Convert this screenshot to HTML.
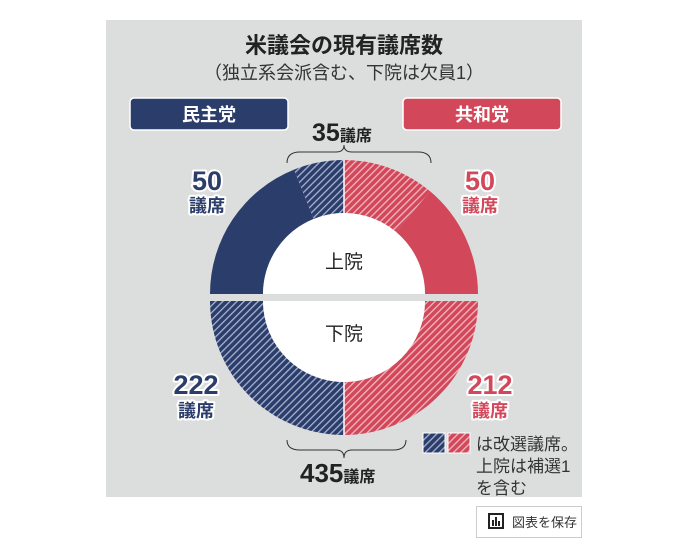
<!DOCTYPE html>
<html><head><meta charset="utf-8"><style>
body{margin:0;background:#fff;width:675px;height:550px;overflow:hidden;font-family:"Liberation Sans","Noto Sans CJK JP",sans-serif}
</style></head><body>
<svg width="675" height="550" viewBox="0 0 675 550" xmlns="http://www.w3.org/2000/svg" font-family="Liberation Sans, Noto Sans CJK JP, sans-serif">
<defs>
<pattern id="hb" width="5" height="5" patternUnits="userSpaceOnUse" patternTransform="rotate(45)">
<rect width="5" height="5" fill="#2b3d6b"/><rect width="1.3" height="5" fill="#a9b3d0"/></pattern>
<pattern id="hr" width="5" height="5" patternUnits="userSpaceOnUse" patternTransform="rotate(45)">
<rect width="5" height="5" fill="#d2485a"/><rect width="1.3" height="5" fill="#f2b9c0"/></pattern>
</defs>
<rect x="106" y="20" width="476" height="477" fill="#dcdddd"/>
<text x="344" y="53" font-size="22" font-weight="bold" text-anchor="middle" fill="#222">米議会の現有議席数</text>
<text x="344" y="79" font-size="18" text-anchor="middle" fill="#333">（独立系会派含む、下院は欠員1）</text>
<rect x="130" y="98" width="158" height="32" rx="4" fill="#2b3d6b" stroke="#fff" stroke-width="1.5"/>
<text x="209" y="121" font-size="18" font-weight="bold" text-anchor="middle" fill="#fff">民主党</text>
<rect x="403" y="98" width="158" height="32" rx="4" fill="#d2485a" stroke="#fff" stroke-width="1.5"/>
<text x="482" y="121" font-size="18" font-weight="bold" text-anchor="middle" fill="#fff">共和党</text>
<text x="312" y="141" font-size="25" font-weight="bold" fill="#222">35<tspan font-size="16">議席</tspan></text>
<path d="M287 163 Q287 152 300 152 L336 152 Q344 152 344 145 Q344 152 352 152 L418 152 Q431 152 431 163" fill="none" stroke="#333" stroke-width="1"/>
<path d="M210 294 A134 134 0 0 1 294.0 169.6 L313.7 218.9 A81 81 0 0 0 263 294 Z" fill="#2b3d6b"/>
<path d="M294.0 169.6 A134 134 0 0 1 344 160 L344 213 A81 81 0 0 0 313.7 218.9 Z" fill="url(#hb)"/>
<path d="M344 160 A134 134 0 0 1 430.1 191.3 L396.1 232.0 A81 81 0 0 0 344 213 Z" fill="url(#hr)"/>
<path d="M430.1 191.3 A134 134 0 0 1 478 294 L425 294 A81 81 0 0 0 396.1 232.0 Z" fill="#d2485a"/>
<line x1="344" y1="160" x2="344" y2="213" stroke="#fff" stroke-width="1.5"/>
<path d="M263 294 A81 81 0 0 1 425 294 Z" fill="#fff"/>
<path d="M210 301 A134 134 0 0 0 344 435 L344 382 A81 81 0 0 1 263 301 Z" fill="url(#hb)"/>
<path d="M344 435 A134 134 0 0 0 478 301 L425 301 A81 81 0 0 1 344 382 Z" fill="url(#hr)"/>
<line x1="344" y1="382" x2="344" y2="435" stroke="#fff" stroke-width="1.5"/>
<path d="M263 301 A81 81 0 0 0 425 301 Z" fill="#fff"/>
<text x="344" y="268" font-size="19" text-anchor="middle" fill="#222">上院</text>
<text x="344" y="340" font-size="19" text-anchor="middle" fill="#222">下院</text>
<g font-weight="bold" text-anchor="middle" stroke="#fff" stroke-width="4" paint-order="stroke" stroke-linejoin="round">
<text x="207" y="190" font-size="27" fill="#2b3d6b">50</text>
<text x="207" y="212" font-size="18" fill="#2b3d6b">議席</text>
<text x="480" y="190" font-size="27" fill="#d2485a">50</text>
<text x="480" y="212" font-size="18" fill="#d2485a">議席</text>
<text x="196" y="394" font-size="27" fill="#2b3d6b">222</text>
<text x="196" y="417" font-size="18" fill="#2b3d6b">議席</text>
<text x="490" y="394" font-size="27" fill="#d2485a">212</text>
<text x="490" y="417" font-size="18" fill="#d2485a">議席</text>
</g>
<path d="M287 440 Q287 450 300 450 L336 450 Q344 450 344 458 Q344 450 352 450 L393 450 Q406 450 406 440" fill="none" stroke="#333" stroke-width="1"/>
<text x="300" y="482" font-size="26" font-weight="bold" fill="#222">435<tspan font-size="16">議席</tspan></text>
<rect x="423" y="433" width="22" height="20" fill="url(#hb)" stroke="#fff"/>
<rect x="448" y="433" width="22" height="20" fill="url(#hr)" stroke="#fff"/>
<g font-size="17" fill="#333"><text x="476" y="450">は改選議席。</text><text x="476" y="472">上院は補選1</text><text x="476" y="494">を含む</text></g>
<rect x="476.5" y="506.5" width="105" height="31" fill="#fff" stroke="#ccc"/>
<rect x="489" y="514" width="14" height="14" fill="none" stroke="#222" stroke-width="2"/>
<rect x="492" y="520" width="2" height="6" fill="#222"/><rect x="495" y="517" width="2" height="9" fill="#222"/><rect x="498" y="521" width="2" height="5" fill="#222"/>
<text x="512" y="527" font-size="13" fill="#333">図表を保存</text>
</svg>
</body></html>
